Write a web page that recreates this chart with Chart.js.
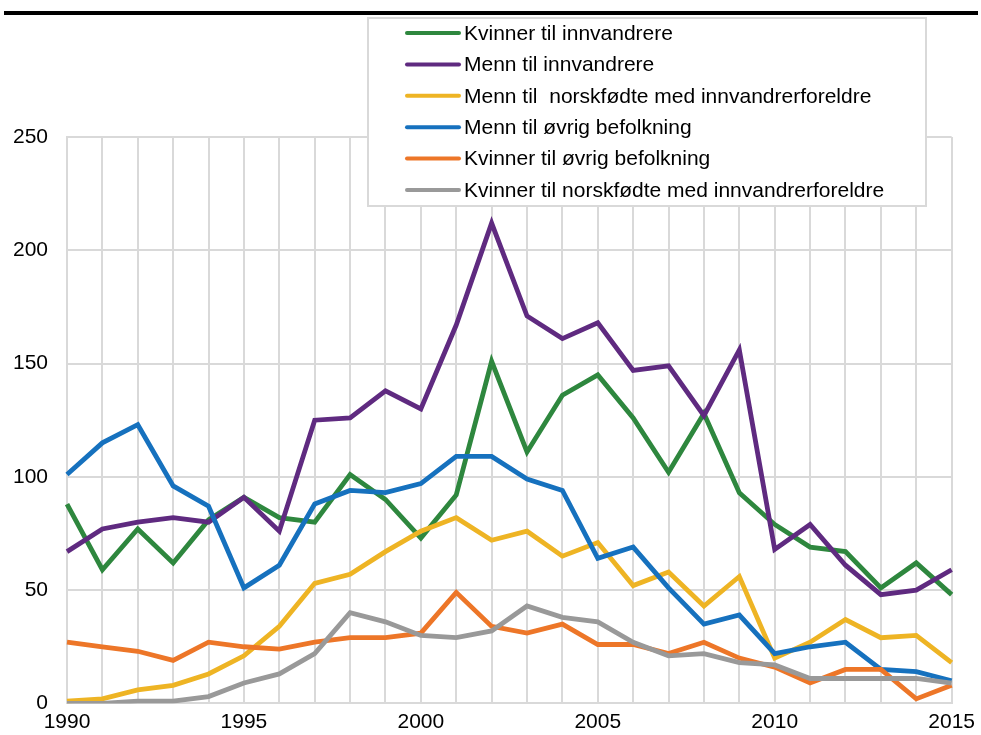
<!DOCTYPE html>
<html>
<head>
<meta charset="utf-8">
<script src="https://cdn.jsdelivr.net/npm/chart.js@4"></script>
<style>
  html, body { margin: 0; padding: 0; background: #fff; }
  #wrap { width: 981px; height: 735px; position: relative; }
</style>
</head>
<body>
<div id="wrap"><canvas id="my-chart"></canvas></div>
<script>
const years = [1990, 1991, 1992, 1993, 1994, 1995, 1996, 1997, 1998, 1999, 2000, 2001, 2002,
  2003, 2004, 2005, 2006, 2007, 2008, 2009, 2010, 2011, 2012, 2013, 2014, 2015];

const kvinnerInnv = [88, 59, 77, 62, 81, 91, 82, 80, 101, 90, 73, 92, 151,
  111, 136, 145, 126, 102, 128, 93, 79, 69, 67, 51, 62, 48];
const mennInnv = [67, 77, 80, 82, 80, 91, 76, 125, 126, 138, 130, 167, 212,
  171, 161, 168, 147, 149, 127, 156, 68, 79, 61, 48, 50, 59];
const mennNorskf = [1, 2, 6, 8, 13, 21, 34, 53, 57, 67, 76, 82, 72,
  76, 65, 71, 52, 58, 43, 56, 20, 27, 37, 29, 30, 18];
const mennOvrig = [101, 115, 123, 96, 87, 51, 61, 88, 94, 93, 97, 109, 109,
  99, 94, 64, 69, 51, 35, 39, 22, 25, 27, 15, 14, 10];
const kvinnerOvrig = [27, 25, 23, 19, 27, 25, 24, 27, 29, 29, 31, 49, 34,
  31, 35, 26, 26, 22, 27, 20, 16, 9, 15, 15, 2, 8];
const kvinnerNorskf = [0, 0, 1, 1, 3, 9, 13, 22, 40, 36, 30, 29, 32,
  43, 38, 36, 27, 21, 22, 18, 17, 11, 11, 11, 11, 9];

const seriesLabels = [
  'Kvinner til innvandrere',
  'Menn til innvandrere',
  'Menn til  norskfødte med innvandrerforeldre',
  'Menn til øvrig befolkning',
  'Kvinner til øvrig befolkning',
  'Kvinner til norskfødte med innvandrerforeldre',
];
const seriesData = [kvinnerInnv, mennInnv, mennNorskf, mennOvrig, kvinnerOvrig, kvinnerNorskf];
const seriesColors = ['#2e873e', '#5f2a80', '#eeb424', '#1671be', '#ed7628', '#999999'];

const FONT = '"Liberation Sans", Arial, sans-serif';
const GRID = '#d9d9d9';

// top rule + boxed legend laid over the upper plot area
const decorations = {
  id: 'decorations',
  beforeDraw: (chart) => {
    const ctx = chart.ctx;
    ctx.save();
    ctx.fillStyle = '#000';
    ctx.fillRect(4, 11, 974, 4);
    ctx.restore();
  },
  afterDraw: (chart) => {
    const ctx = chart.ctx;
    ctx.save();
    ctx.fillStyle = '#fff';
    ctx.fillRect(368, 18, 558, 188);
    ctx.strokeStyle = GRID;
    ctx.lineWidth = 2;
    ctx.strokeRect(368, 18, 558, 188);
    ctx.font = `21px ${FONT}`;
    ctx.textBaseline = 'middle';
    ctx.textAlign = 'left';
    chart.data.datasets.forEach((ds, i) => {
      const y = 33 + i * 31.4;
      ctx.strokeStyle = ds.borderColor;
      ctx.lineWidth = 4;
      ctx.lineCap = 'round';
      ctx.beginPath();
      ctx.moveTo(407, y);
      ctx.lineTo(459, y);
      ctx.stroke();
      ctx.fillStyle = '#000';
      ctx.fillText(ds.label, 464, y + 1);
    });
    ctx.restore();
  },
};

const chart1 = document.getElementById('my-chart').getContext('2d');
const myChart = new Chart(chart1, {
  type: 'line',
  data: {
    labels: years,
    datasets: seriesLabels.map((label, i) => ({
      label,
      data: seriesData[i],
      borderColor: seriesColors[i],
      backgroundColor: seriesColors[i],
      borderWidth: 4.8,
      pointRadius: 0,
      tension: 0,
      order: seriesLabels.length - i,
    })),
  },
  options: {
    responsive: true,
    maintainAspectRatio: false,
    animation: false,
    layout: {
      padding: { top: 137, left: 0, right: 29, bottom: 0 },
    },
    plugins: {
      legend: { display: false },
      title: { display: false },
      tooltip: { enabled: false },
    },
    scales: {
      x: {
        grid: { color: GRID, lineWidth: 2, drawTicks: false },
        border: { color: GRID, width: 2 },
        ticks: {
          autoSkip: false,
          maxRotation: 0,
          padding: 6,
          color: '#000',
          font: { family: FONT, size: 21 },
          callback: function (value) {
            const yr = this.getLabelForValue(value);
            return yr % 5 === 0 ? String(yr) : '';
          },
        },
        afterFit: (s) => { s.height = 31; },
      },
      y: {
        min: 0,
        max: 250,
        grid: { color: GRID, lineWidth: 2, drawTicks: false },
        border: { color: GRID, width: 2 },
        ticks: {
          stepSize: 50,
          padding: 19,
          color: '#000',
          font: { family: FONT, size: 21 },
        },
        afterFit: (s) => { s.width = 67; },
      },
    },
  },
  plugins: [decorations],
});
</script>
</body>
</html>
